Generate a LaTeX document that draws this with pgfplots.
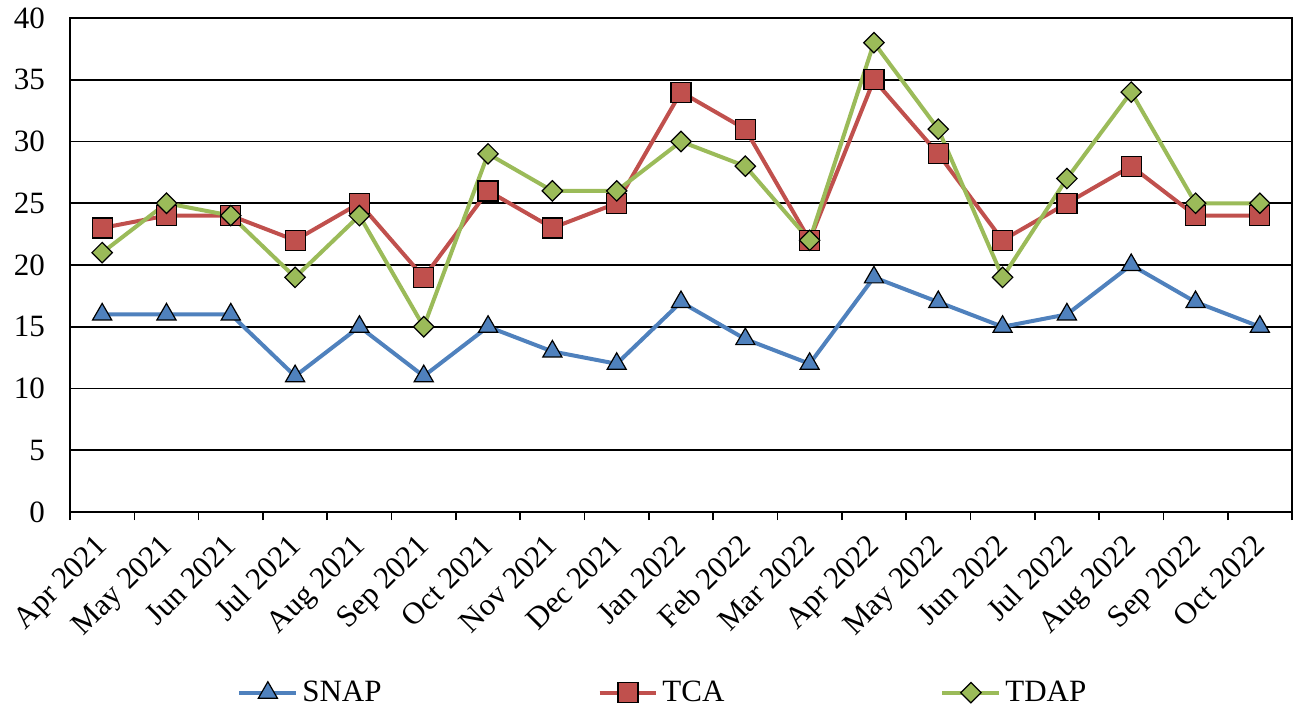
\documentclass[border=0pt]{standalone}
\usepackage{pgfplots}
\pgfplotsset{compat=1.18}
\usepackage{fontspec}
\setmainfont{Liberation Serif}
\definecolor{snap}{RGB}{79,129,189}
\definecolor{tca}{RGB}{192,80,77}
\definecolor{tdap}{RGB}{155,187,89}
\begin{document}
\begin{tikzpicture}
\path[use as bounding box] (-35pt,-97pt) rectangle (612.5pt,256pt);
\begin{axis}[
  scale only axis, width=611pt, height=247pt,
  xmin=-0.5, xmax=18.5, ymin=0, ymax=40,
  ytick={0,5,...,40},
  xtick={0,...,18},
  xticklabels={Apr 2021,May 2021,Jun 2021,Jul 2021,Aug 2021,Sep 2021,Oct 2021,Nov 2021,Dec 2021,Jan 2022,Feb 2022,Mar 2022,Apr 2022,May 2022,Jun 2022,Jul 2022,Aug 2022,Sep 2022,Oct 2022},
  minor xtick={-0.5,0.5,...,18.5},
  major tick length=0pt, minor tick length=4pt,
  tick align=outside, tick pos=left,
  every minor tick/.style={black, line width=0.8pt},
  xticklabel style={xshift=-4pt, yshift=-10pt, rotate=45, anchor=north east, inner sep=0pt},
  yticklabel style={xshift=-9pt},
  ymajorgrids, grid style={black, line width=0.8pt},
  axis line style={line width=0.8pt},
  font=\fontsize{15.5}{18}\selectfont,
  ticklabel style={font=\fontsize{15.5}{18}\selectfont},
  /pgf/number format/assume math mode=true,
  legend columns=3,
  legend style={draw=none, at={(0.486,-0.325)}, anchor=north, font=\fontsize{15.5}{18}\selectfont,
    /tikz/every even column/.append style={column sep=106pt}},
  legend image code/.code={\draw[mark repeat=2,mark phase=2] plot coordinates {(0cm,0cm)(0.5cm,0cm)(1cm,0cm)};},
  every axis plot/.append style={line width=2pt},
]
\addplot[color=snap, mark=triangle*, mark size=5.5pt, mark options={draw=black, fill=snap, line width=0.6pt, solid}] coordinates {
(0,16)(1,16)(2,16)(3,11)(4,15)(5,11)(6,15)(7,13)(8,12)(9,17)(10,14)(11,12)(12,19)(13,17)(14,15)(15,16)(16,20)(17,17)(18,15)};
\addlegendentry{SNAP}
\addplot[color=tca, mark=square*, mark size=5pt, mark options={draw=black, fill=tca, line width=0.6pt, solid}] coordinates {
(0,23)(1,24)(2,24)(3,22)(4,25)(5,19)(6,26)(7,23)(8,25)(9,34)(10,31)(11,22)(12,35)(13,29)(14,22)(15,25)(16,28)(17,24)(18,24)};
\addlegendentry{TCA}
\addplot[color=tdap, mark=square*, mark size=3.6pt, mark options={draw=black, fill=tdap, line width=0.6pt, solid, rotate=45}] coordinates {
(0,21)(1,25)(2,24)(3,19)(4,24)(5,15)(6,29)(7,26)(8,26)(9,30)(10,28)(11,22)(12,38)(13,31)(14,19)(15,27)(16,34)(17,25)(18,25)};
\addlegendentry{TDAP}
\end{axis}
\end{tikzpicture}
\end{document}
